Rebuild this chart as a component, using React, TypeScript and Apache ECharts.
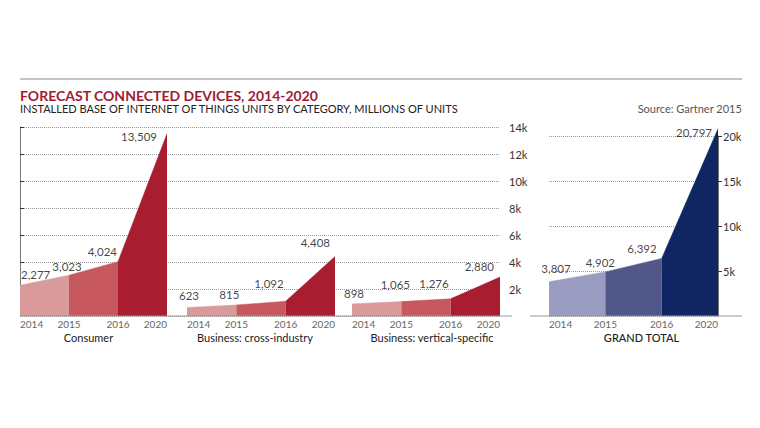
import React, { useEffect, useRef } from "react";
import * as echarts from "echarts";

const YEARS = ["2014", "2015", "2016", "2020"];
const CONSUMER = [2277, 3023, 4024, 13509];
const CROSS_INDUSTRY = [623, 815, 1092, 4408];
const VERTICAL_SPECIFIC = [898, 1065, 1276, 2880];
const GRAND_TOTAL = [3807, 4902, 6392, 20797];
const PANEL_NAMES = ["Consumer", "Business: cross-industry", "Business: vertical-specific", "GRAND TOTAL"];
const LEFT_AXIS = { min: 0, max: 14000, interval: 2000 };
const RIGHT_AXIS = { min: 0, max: 20000, interval: 5000 };

const FONT = "Lato, 'Open Sans', sans-serif";
const RED = ["#d99a9b", "#c7585d", "#a91d30"];
const BLUE = ["#9b9cc2", "#525789", "#102662"];

// label placement (align, dx, dy) per point
const LABEL_LAYOUT = [
  [["left", 1, -11], ["center", -2, -9], ["right", -1, -10], ["right", -10, 3]],
  [["center", 2, -12], ["center", -7, -10], ["right", -2, -18], ["right", -5, -14]],
  [["center", 2, -10], ["center", -6, -17], ["right", -2, -15], ["right", -6, -11]],
  [["center", 7, -13], ["center", -5, -9], ["right", -5, -10], ["right", -6, 4]],
];
const NAME_PADDING = [[0, 10, 0, 0], [0, 12, 0, 0], [0, 0, 0, 12], [0, 0, 0, 16]];

const fmt = (v: number) => v.toLocaleString("en-US");

export default function App() {
  const ref = useRef<HTMLDivElement>(null);
  useEffect(() => {
    document.body.style.margin = "0";
    const chart = echarts.init(ref.current!, null, { renderer: "svg" });
    const panels = [CONSUMER, CROSS_INDUSTRY, VERTICAL_SPECIFIC, GRAND_TOTAL];
    const grids = [
      { left: 20, width: 147, top: 127, height: 189 },
      { left: 187, width: 148, top: 127, height: 189 },
      { left: 352, width: 148, top: 127, height: 189 },
      { left: 549, width: 169, top: 136, height: 180 },
      { left: 20, width: 480, top: 127, height: 189 },
    ];
    const xAxis: any[] = panels.map((_, i) => ({
      type: "category",
      gridIndex: i,
      data: YEARS,
      boundaryGap: false,
      axisLine: { show: false },
      axisTick: { show: false },
      axisLabel: {
        interval: 0,
        fontSize: 10,
        color: "#666",
        fontFamily: FONT,
        margin: 3,
        alignMinLabel: "left",
        alignMaxLabel: "right",
      },
      name: PANEL_NAMES[i],
      nameLocation: "middle",
      nameGap: 16,
      nameTextStyle: {
        fontSize: 11,
        color: "#222",
        fontFamily: FONT,
        fontWeight: i === 3 ? 500 : 400,
        padding: NAME_PADDING[i],
      },
    }));
    xAxis.push({ type: "value", gridIndex: 4, min: 0, max: 1, show: false });

    const yAxis: any[] = [0, 1, 2].map((i) => ({
      type: "value",
      gridIndex: i,
      ...LEFT_AXIS,
      show: false,
    }));
    yAxis.push({
      type: "value",
      gridIndex: 3,
      position: "right",
      ...RIGHT_AXIS,
      axisLine: { show: true, lineStyle: { color: "#777", width: 1 } },
      axisTick: { show: true, length: 4, lineStyle: { color: "#333" } },
      axisLabel: {
        margin: 5,
        fontSize: 11,
        color: "#333",
        fontFamily: FONT,
        showMinLabel: false,
        formatter: (v: number) => (v === 0 ? "" : v / 1000 + "k"),
      },
      splitLine: { show: true, lineStyle: { type: "dotted", color: "#999", width: 1 } },
    });
    yAxis.push({
      type: "value",
      gridIndex: 4,
      position: "right",
      ...LEFT_AXIS,
      axisLine: { show: true, lineStyle: { color: "#777", width: 1 } },
      axisTick: { show: true, length: 4, lineStyle: { color: "#333" } },
      axisLabel: {
        margin: 9,
        fontSize: 11,
        color: "#333",
        fontFamily: FONT,
        showMinLabel: false,
        formatter: (v: number) => (v === 0 ? "" : v / 1000 + "k"),
      },
      splitLine: { show: true, lineStyle: { type: "dotted", color: "#999", width: 1 } },
    });

    const series: any[] = [];
    panels.forEach((vals, p) => {
      const colors = p === 3 ? BLUE : RED;
      [0, 1, 2].forEach((k) => {
        series.push({
          type: "line",
          xAxisIndex: p,
          yAxisIndex: p,
          data: vals.map((v, i) => (i === k || i === k + 1 ? v : "-")),
          symbol: "none",
          clip: false,
          lineStyle: { color: colors[k], width: 0.5 },
          areaStyle: { color: colors[k], opacity: 1 },
          z: 2,
        });
      });
      series.push({
        type: "scatter",
        xAxisIndex: p,
        yAxisIndex: p,
        symbolSize: 1,
        itemStyle: { color: "rgba(0,0,0,0)" },
        clip: false,
        z: 5,
        data: vals.map((v, i) => {
          const [align, dx, dy] = LABEL_LAYOUT[p][i] as [string, number, number];
          return {
            value: [i, v],
            label: {
              show: true,
              position: "inside",
              align,
              verticalAlign: "middle",
              offset: [dx, dy],
              formatter: fmt(v),
              fontSize: 11.5,
              color: "#111",
              fontFamily: FONT,
            },
          };
        }),
      });
    });

    chart.setOption({
      animation: false,
      backgroundColor: "#fff",
      title: [
        {
          text: "FORECAST CONNECTED DEVICES, 2014-2020",
          left: 20,
          top: 88,
          padding: 0,
          textStyle: { fontSize: 14, fontWeight: "bold", color: "#9e1b32", fontFamily: FONT },
        },
        {
          text: "INSTALLED BASE OF INTERNET OF THINGS UNITS BY CATEGORY, MILLIONS OF UNITS",
          left: 20,
          top: 103,
          padding: 0,
          textStyle: { fontSize: 11, fontWeight: "normal", color: "#222", fontFamily: FONT },
        },
        {
          text: "Source: Gartner 2015",
          right: 18,
          top: 103,
          padding: 0,
          textStyle: { fontSize: 11, fontWeight: "normal", color: "#555", fontFamily: FONT },
        },
      ],
      grid: grids,
      xAxis,
      yAxis,
      series,
      graphic: [
        { type: "line", shape: { x1: 20, y1: 79, x2: 742, y2: 79 }, style: { stroke: "#888", lineWidth: 1 }, z: 100 },
        { type: "line", shape: { x1: 20, y1: 316, x2: 512, y2: 316 }, style: { stroke: "#999", lineWidth: 1 }, z: 100 },
        { type: "line", shape: { x1: 530, y1: 316, x2: 742, y2: 316 }, style: { stroke: "#999", lineWidth: 1 }, z: 100 },
      ],
    });
    return () => chart.dispose();
  }, []);
  return <div ref={ref} style={{ width: 760, height: 428 }} />;
}
